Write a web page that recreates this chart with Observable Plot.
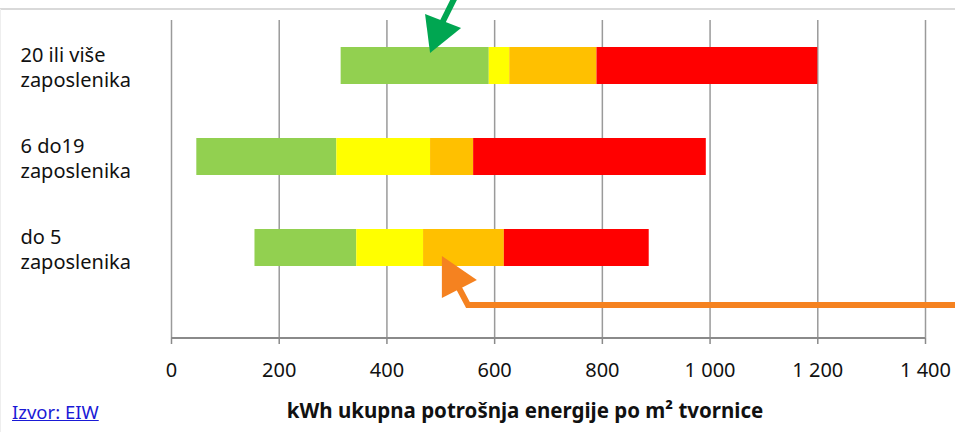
<!DOCTYPE html>
<html>
<head>
<meta charset="utf-8">
<script src="https://cdn.jsdelivr.net/npm/d3@7"></script>
<script src="https://cdn.jsdelivr.net/npm/@observablehq/plot@0.6"></script>
<style>
  body { margin: 0; background: #fff; font-family: "Noto Sans", sans-serif; }
  #wrap { position: relative; width: 955px; height: 432px; overflow: hidden; background: #fff; }
  #topline { position: absolute; left: 0; top: 8px; width: 955px; height: 2px; background: #d9d9d9; }
  #leftline { position: absolute; left: 0; top: 9px; width: 1px; height: 423px; background: #eeeeee; }
  #chart { position: absolute; left: 0; top: 0; }
  #src { position: absolute; left: 12px; top: 399px; font-size: 18.5px; color: #1a1ad6; text-decoration: underline; }
  #title { position: absolute; left: 525px; top: 396px; transform: translateX(-50%); white-space: nowrap; font-size: 20.5px; font-weight: bold; color: #111; }
</style>
</head>
<body>
<div id="wrap">
  <div id="topline"></div>
  <div id="leftline"></div>
  <div id="chart"></div>
  <a id="src">Izvor: EIW</a>
  <div id="title">kWh ukupna potrošnja energije po m² tvornice</div>
</div>
<script>
// ---- data ----
const categories = ["20 ili više\nzaposlenika", "6 do19\nzaposlenika", "do 5\nzaposlenika"];
const startVals  = [315, 47, 155];
const greenEnd   = [590, 307, 344];
const yellowEnd  = [628, 481, 468];
const orangeEnd  = [790, 561, 618];
const redEnd     = [1200, 993, 887];
const segNames   = ["zeleno", "žuto", "narančasto", "crveno"];
const segColors  = ["#92D050", "#FFFF00", "#FFC000", "#FF0000"];
const xTicks     = [0, 200, 400, 600, 800, 1000, 1200, 1400];
// annotation arrows: tip value on the x axis, and the category they point at
const greenArrowTip  = {x: 481, cat: categories[0]};
const orangeArrowTip = {x: 503, cat: categories[2]};

const rows = [];
categories.forEach((c, i) => {
  const b = [startVals[i], greenEnd[i], yellowEnd[i], orangeEnd[i], redEnd[i]];
  for (let k = 0; k < 4; k++) rows.push({cat: c, seg: segNames[k], x1: b[k], x2: b[k + 1]});
});

const fmt = d => d3.format(",")(d).replace(/,/g, " ");
const H = 390, MB = 52, MT = 20;

const plot = Plot.plot({
  width: 955,
  height: H,
  marginLeft: 171,
  marginRight: 30,
  marginTop: MT,
  marginBottom: MB,
  style: {fontFamily: "'Noto Sans', sans-serif", color: "#111", background: "transparent", overflow: "visible"},
  x: {domain: [0, 1400]},
  y: {domain: categories, range: [20, 293], paddingInner: 0.59, paddingOuter: 0.295},
  color: {domain: segNames, range: segColors},
  marks: [
    Plot.ruleX(xTicks, {stroke: "#9a9a9a", strokeWidth: 1.5}),
    Plot.barX(rows, {x1: "x1", x2: "x2", y: "cat", fill: "seg"}),
    Plot.axisX({ticks: xTicks, tickFormat: fmt, tickSize: 6, tickPadding: 18, fontSize: 20, stroke: "#8a8a8a", strokeWidth: 1.5, label: null, color: "#111"}),
    Plot.axisY({tickSize: 0, tickPadding: 151, textAnchor: "start", fontSize: 20, lineHeight: 1.25, label: null, color: "#111"})
  ]
});
document.getElementById("chart").appendChild(plot);

const xs = plot.scale("x"), ys = plot.scale("y");
const svg = d3.select(plot);
// x axis baseline
const xr = [xs.apply(0), xs.apply(1400)];
svg.append("line").attr("x1", xr[0]).attr("x2", xr[1]).attr("y1", H - MB).attr("y2", H - MB)
  .attr("stroke", "#8a8a8a").attr("stroke-width", 2);

// green arrow (points down into the top bar)
{
  const tx = xs.apply(greenArrowTip.x), ty = ys.apply(greenArrowTip.cat) + 6;
  const g = svg.append("g");
  g.append("line").attr("x1", tx + 12).attr("y1", ty - 30).attr("x2", tx + 32).attr("y2", ty - 70)
    .attr("stroke", "#00A651").attr("stroke-width", 6).attr("stroke-linecap", "butt");
  g.append("polygon").attr("fill", "#00A651")
    .attr("points", `${tx},${ty} ${tx - 5},${ty - 39} ${tx + 31},${ty - 25}`);
}
// orange arrow (points up into the bottom bar, elbow line to the right edge)
{
  const tx = xs.apply(orangeArrowTip.x), ty = ys.apply(orangeArrowTip.cat) + ys.bandwidth - 10;
  const g = svg.append("g");
  g.append("polyline").attr("fill", "none").attr("stroke", "#F58220").attr("stroke-width", 6)
    .attr("stroke-linejoin", "miter")
    .attr("points", `${tx + 16},${ty + 30} ${tx + 26},${ty + 49} 960,${ty + 49}`);
  g.append("polygon").attr("fill", "#F58220")
    .attr("points", `${tx},${ty} ${tx},${ty + 42} ${tx + 35},${ty + 24}`);
}
</script>
</body>
</html>
